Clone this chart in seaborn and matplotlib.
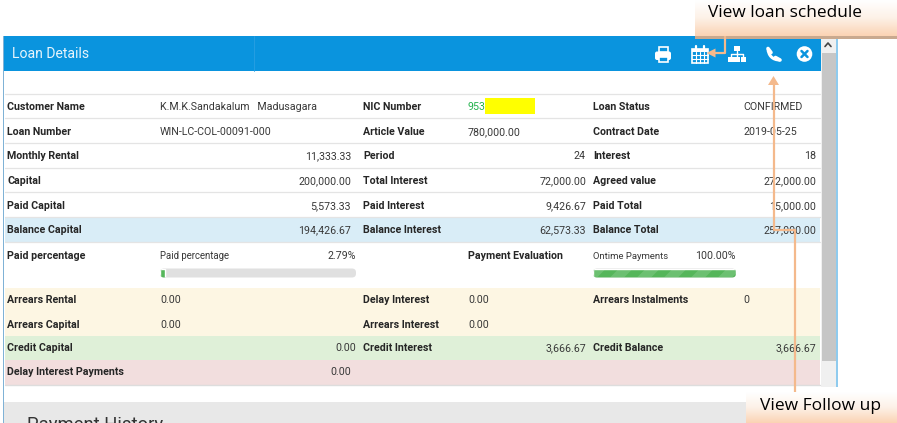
import matplotlib
matplotlib.use("Agg")
import matplotlib.pyplot as plt
import numpy as np
import pandas as pd
import seaborn as sns
from matplotlib.patches import Rectangle, FancyBboxPatch, Circle, Polygon, PathPatch
from matplotlib.path import Path

sns.set_theme(style="white")

W, H = 897, 423
TITLE = "Loan Details"
CALLOUT_TOP = "View loan schedule"
CALLOUT_BOTTOM = "View Follow up"
NEXT_SECTION = "Payment History"

LABELS_1 = ["Customer Name", "Loan Number", "Monthly Rental", "Capital", "Paid Capital", "Balance Capital",
            "Paid percentage", "Arrears Rental", "Arrears Capital", "Credit Capital", "Delay Interest Payments"]
VALUES_1 = ["K.M.K.Sandakalum   Madusagara", "WIN-LC-COL-00091-000", "11,333.33", "200,000.00", "5,573.33",
            "194,426.67", "", "0.00", "0.00", "0.00", "0.00"]
LABELS_2 = ["NIC Number", "Article Value", "Period", "Total Interest", "Paid Interest", "Balance Interest",
            "", "Delay Interest", "Arrears Interest", "Credit Interest", ""]
VALUES_2 = ["953", "780,000.00", "24", "72,000.00", "9,426.67", "62,573.33", "", "0.00", "0.00", "3,666.67", ""]
LABELS_3 = ["Loan Status", "Contract Date", "Interest", "Agreed value", "Paid Total", "Balance Total",
            "", "Arrears Instalments", "", "Credit Balance", ""]
VALUES_3 = ["CONFIRMED", "2019-05-25", "18", "272,000.00", "15,000.00", "257,000.00", "", "0", "", "3,666.67", ""]
EVALUATION_LABEL = "Payment Evaluation"

PROGRESS_NAMES = ["Paid percentage", "Ontime Payments"]
PROGRESS_VALUES = [2.79, 100.0]

# layout (pixels)
ROW_Y = [106, 131, 155, 180, 205, 229, 255, 299, 324, 347, 371]
ROW_EDGES = [94, 118.5, 143, 168, 192.5, 217.5, 242, 288, 312, 336, 360, 385]
ROW_FILL = ["white", "white", "white", "white", "white", "#d9edf7", "white", "#fdf6e3", "#fdf6e3", "#dff0d8", "#f2dede"]

fig = plt.figure(figsize=(W / 100, H / 100), dpi=100, facecolor="white")
ax = fig.add_axes([0, 0, 1, 1])
ax.set_xlim(0, W)
ax.set_ylim(H, 0)
ax.axis("off")

FONT = "Roboto"
TXT = "#383838"
def label(x, y, s):
    ax.text(x, y + 3.8, s, fontsize=7.7, fontweight="bold", color="#262626", family=FONT, va="baseline", zorder=5)
def val(x, y, s, ha="left", color=TXT, fs=7.7):
    ax.text(x, y + 3.8, s, fontsize=fs, color=color, family=FONT, va="baseline", ha=ha, zorder=5)

BLUE = "#0a94de"
PEACH = "#f4b98c"

# panel
ax.add_patch(Rectangle((2.5, 36), 1.5, 387, fc="#7fb2d6", ec="none", zorder=1))
ax.add_patch(Rectangle((835.5, 36), 2, 351, fc="#8fcbee", ec="none", zorder=1))
ax.add_patch(Rectangle((4, 36), 817, 35, fc=BLUE, ec="none", zorder=1))
ax.plot([254, 254], [36, 71], color="#2a9fe2", lw=0.6, zorder=2)
ax.text(12, 58, TITLE, fontsize=10.1, color="#e8f5fc", family=FONT, va="baseline", zorder=5)

# scrollbar
ax.add_patch(Rectangle((821, 36), 14.5, 351, fc="#f0f0f0", ec="none", zorder=1))
ax.add_patch(Rectangle((822, 53), 13.5, 308, fc="#c6c6c6", ec="none", zorder=2))
ax.plot([825, 828, 831], [46.5, 43, 46.5], color="#444444", lw=1.2, zorder=3)

# section band beneath
ax.add_patch(Rectangle((4, 402), 893, 21, fc="#e8e8e8", ec="none", zorder=1))
ax.text(27, 430, NEXT_SECTION, fontsize=13.3, color="#333333", family=FONT, va="baseline", zorder=3)

# rows
for i, fill in enumerate(ROW_FILL):
    ax.add_patch(Rectangle((5, ROW_EDGES[i]), 815, ROW_EDGES[i + 1] - ROW_EDGES[i], fc=fill, ec="none", zorder=1))
for e in ROW_EDGES[:7]:
    ax.plot([5, 820], [e, e], color="#e4e4e4", lw=0.9, zorder=2)
ax.plot([5, 820], [385.5, 385.5], color="#dddddd", lw=1, zorder=2)

for i, y in enumerate(ROW_Y):
    label(7, y, LABELS_1[i])
    label(363, y, LABELS_2[i])
    label(593, y, LABELS_3[i])
    if i in (0, 1, 7, 8):
        val(160, y, VALUES_1[i])
    elif i == 9:
        val(356, y, VALUES_1[i], ha="right")
    elif VALUES_1[i]:
        val(351, y, VALUES_1[i], ha="right")
    if i == 0:
        ax.add_patch(Rectangle((485, 98), 50, 16, fc="#ffff00", ec="none", zorder=3))
        val(468, y, VALUES_2[i], color="#22b14c")
    elif i in (1, 7, 8):
        val(468, y, VALUES_2[i])
    elif VALUES_2[i]:
        val(586, y, VALUES_2[i], ha="right")
    if i in (0, 1, 7):
        val(743, y, VALUES_3[i])
    elif VALUES_3[i]:
        val(816, y, VALUES_3[i], ha="right")
label(468, 255, EVALUATION_LABEL)

# progress bars, through seaborn
bars = [(160, 356, 268.5, 277.5), (593, 736, 268.5, 277.5)]
for k, ((x0, x1, y0, y1), nm, v) in enumerate(zip(bars, PROGRESS_NAMES, PROGRESS_VALUES)):
    ax.add_patch(FancyBboxPatch((x0, y0), x1 - x0, y1 - y0, boxstyle="round,pad=0,rounding_size=4",
                                fc="#e0e0e0", ec="none", zorder=2))
    iax = fig.add_axes([x0 / W, 1 - y1 / H, (x1 - x0) / W, (y1 - y0) / H], facecolor="none")
    sns.barplot(data=pd.DataFrame({"name": [nm], "pct": [v]}), x="pct", y="name", orient="h", color="#55b65a",
                saturation=1, width=1.0, ax=iax)
    iax.set_xlim(0, 100)
    iax.axis("off")
    clip = FancyBboxPatch((x0, y0), x1 - x0, y1 - y0, boxstyle="round,pad=0,rounding_size=4",
                          transform=ax.transData, fc="none", ec="none")
    for p in iax.patches:
        p.set_clip_path(clip)
    if k == 1:
        for sx in np.arange(x0 - 10, x1, 27):
            s = Polygon([[sx, y1], [sx + 14, y1], [sx + 23, y0], [sx + 9, y0]], transform=ax.transData,
                        fc="white", ec="none", alpha=0.14)
            iax.add_patch(s)
            s.set_clip_path(clip)

val(160, 255.5, PROGRESS_NAMES[0], fs=6.9)
val(356, 255, f"{PROGRESS_VALUES[0]:.2f}%", ha="right")
val(593, 255.5, PROGRESS_NAMES[1], fs=6.8)
val(736, 255, f"{PROGRESS_VALUES[1]:.2f}%", ha="right")

# header icons (drawn decoration)
W_ = "white"
# printer
ax.add_patch(FancyBboxPatch((655, 51.5), 16, 8.5, boxstyle="round,pad=0,rounding_size=2", fc=W_, ec="none", zorder=4))
ax.add_patch(Rectangle((658.5, 47.5), 9, 5, fc=BLUE, ec=W_, lw=1.2, zorder=4))
ax.add_patch(Rectangle((658.5, 57), 9, 5, fc=BLUE, ec=W_, lw=1.2, zorder=4))
# calendar
ax.add_patch(Rectangle((692, 49), 16, 14, fc=BLUE, ec=W_, lw=1.2, zorder=4))
ax.add_patch(Rectangle((692, 49), 16, 3.5, fc=W_, ec="none", zorder=4))
for gx in (696, 700, 704):
    ax.plot([gx, gx], [52, 63], color=W_, lw=0.8, zorder=4)
for gy in (55.5, 59):
    ax.plot([692, 708], [gy, gy], color=W_, lw=0.8, zorder=4)
for gx in (696, 704):
    ax.plot([gx, gx], [46.5, 50.5], color=W_, lw=1.6, zorder=4)
# sitemap
ax.add_patch(Rectangle((734, 46.5), 6, 5, fc=W_, ec="none", zorder=4))
for sx in (728, 734, 740.5):
    ax.add_patch(Rectangle((sx, 57), 5.5, 5, fc=W_, ec="none", zorder=4))
ax.plot([737, 737], [51, 57], color=W_, lw=1, zorder=4)
ax.plot([730.5, 730.5, 743, 743], [57, 54, 54, 57], color=W_, lw=1, zorder=4)
# phone
phone = Path([(768, 49), (768.5, 55), (772, 60), (780, 60)], [Path.MOVETO, Path.CURVE4, Path.CURVE4, Path.CURVE4])
ax.add_patch(PathPatch(phone, fc="none", ec=W_, lw=2.2, zorder=4))
ax.plot([768, 771], [48.5, 52.5], color=W_, lw=2.6, zorder=4, solid_capstyle="round")
ax.plot([775.5, 780], [57.5, 60], color=W_, lw=2.6, zorder=4, solid_capstyle="round")
# close
ax.add_patch(Circle((804.5, 54), 7.8, fc=W_, ec="none", zorder=4))
ax.plot([801.5, 807.5], [51, 57], color=BLUE, lw=1.8, zorder=5)
ax.plot([801.5, 807.5], [57, 51], color=BLUE, lw=1.8, zorder=5)

# callouts with gradient
peach_map = matplotlib.colors.LinearSegmentedColormap.from_list("peach", ["#ffffff", "#fdf1e7", "#fbd3b4"])
grad = np.linspace(0, 1, 64)[:, None]
ax.add_patch(Rectangle((695, 35), 202, 4, fc="#c9a98f", ec="none", zorder=6))
ax.imshow(grad, extent=(695, 897, 36, 0), cmap=peach_map, aspect="auto", zorder=7)
ax.imshow(grad, extent=(746, 897, 423, 392), cmap=peach_map, aspect="auto", zorder=7)
ax.set_xlim(0, W)
ax.set_ylim(H, 0)
ax.text(785, 13, CALLOUT_TOP, fontsize=12.4, color="black", family="Open Sans", ha="center", va="center", zorder=8)
ax.text(820, 406, CALLOUT_BOTTOM, fontsize=12.5, color="black", family="Open Sans", ha="center", va="center", zorder=8)

# connector arrows
ax.plot([725, 725, 714], [36, 53, 53], color=PEACH, lw=1.6, zorder=6)
ax.add_patch(Polygon([[706.5, 53], [715.5, 48.5], [715.5, 57.5]], fc=PEACH, ec="none", zorder=6))
ax.plot([774, 774, 795, 795], [84, 230, 230, 392], color=PEACH, lw=1.6, zorder=6)
ax.add_patch(Polygon([[773.5, 76], [768, 85], [779, 85]], fc=PEACH, ec="none", zorder=6))

fig.savefig("out.png", dpi=100)
